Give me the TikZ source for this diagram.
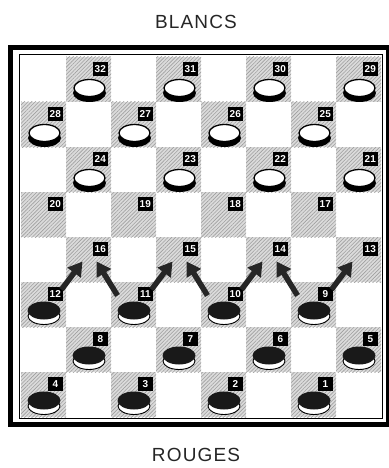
\documentclass[tikz,border=0pt]{standalone}
\usepackage{fontspec}
\setmainfont{Liberation Sans}
\usetikzlibrary{patterns.meta,arrows.meta}
\begin{document}
\begin{tikzpicture}[x=1pt,y=-1pt,
  darksq/.style={fill=gray!28, postaction={pattern={Lines[angle=45,distance=2.6pt,line width=0.6pt]}, pattern color=gray!75}},
  numbox/.style={fill=black, text=white, font=\bfseries\fontsize{10}{10}\selectfont, minimum width=15pt, minimum height=14pt, inner sep=0pt, anchor=north east},
  move/.style={draw=black!85, line width=5.5pt, -{Triangle[width=16pt,length=14pt]}},
  sidelabel/.style={font=\fontsize{19}{19}\selectfont\addfontfeature{LetterSpace=6}, text=black!85}
]
\useasboundingbox (0,0) rectangle (388,468);
\fill[white] (0,0) rectangle (388,468);
\node[sidelabel] (blancs) at (196,22) {BLANCS};
\node[sidelabel] (rouges) at (196,455) {ROUGES};
% squares
\foreach \r in {1,...,8}{
  \foreach \c in {1,...,8}{
    \pgfmathtruncatemacro\odd{mod(\r+\c,2)}
    \ifnum\odd=1
      \pgfmathtruncatemacro\n{4*(8-\r)+4-floor((\c-1)/2)}
      \pgfmathsetmacro\xl{21+45*(\c-1)}
      \pgfmathsetmacro\yt{57+45*(\r-1)}
      \fill[darksq] (\xl,\yt) rectangle ++(45,45);
      \coordinate (s\n) at (\xl+22.5,\yt+22.5);
    \fi
  }}
% pieces and labels
\foreach \r in {1,...,8}{
  \foreach \c in {1,...,8}{
    \pgfmathtruncatemacro\odd{mod(\r+\c,2)}
    \ifnum\odd=1
      \pgfmathtruncatemacro\n{4*(8-\r)+4-floor((\c-1)/2)}
      \pgfmathsetmacro\xl{21+45*(\c-1)}
      \pgfmathsetmacro\yt{57+45*(\r-1)}
      \ifnum\r<4
        \fill[black] (\xl+23.5,\yt+36) ellipse (16.5 and 9);
        \draw[black, line width=1.3pt, fill=white] (\xl+23.5,\yt+31) ellipse (15.5 and 8.5);
      \fi
      \ifnum\r>5
        \draw[black, line width=0.9pt, fill=white] (\xl+23,\yt+34) ellipse (16 and 8.5);
        \fill[black!90] (\xl+23,\yt+28.5) ellipse (16.5 and 9);
      \fi
      \node[numbox] (n\n) at (\xl+42,\yt+5) {\n};
    \fi
  }}
% frame
\draw[line width=5pt] (10.5,47.5) rectangle (388.5,424.5);
\draw[line width=1pt] (19,55) rectangle (382,418);
% moves
\draw[move] ([shift={(18,-15)}]s12) -- ([shift={(-6,2)}]s16);
\draw[move] ([shift={(-16,-9)}]s11) -- ([shift={(8,2)}]s16);
\draw[move] ([shift={(18,-15)}]s11) -- ([shift={(-6,2)}]s15);
\draw[move] ([shift={(-16,-9)}]s10) -- ([shift={(8,2)}]s15);
\draw[move] ([shift={(18,-15)}]s10) -- ([shift={(-6,2)}]s14);
\draw[move] ([shift={(-16,-9)}]s9) -- ([shift={(8,2)}]s14);
\draw[move] ([shift={(18,-15)}]s9) -- ([shift={(-6,2)}]s13);
\end{tikzpicture}
\end{document}
